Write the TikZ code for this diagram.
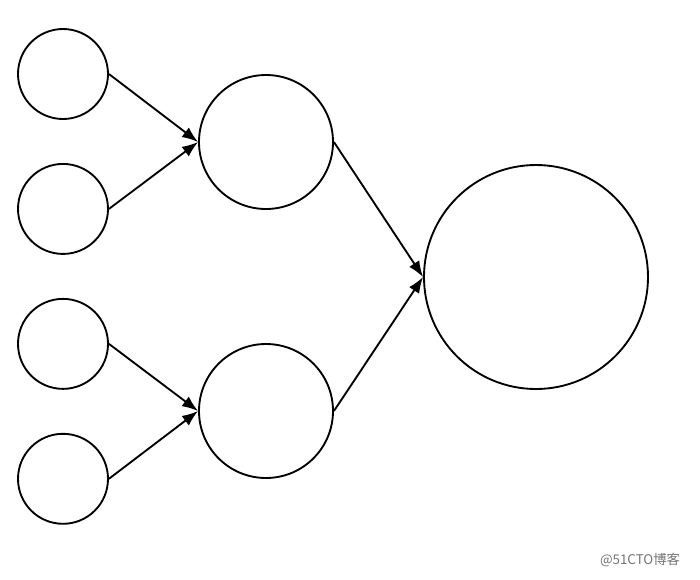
\documentclass[tikz,border=0pt]{standalone}
\usepackage{fontspec}
\newfontfamily\cjk{Noto Sans CJK SC}
\usetikzlibrary{arrows.meta, positioning}

\begin{document}
\begin{tikzpicture}[
        x=0.75pt, y=-0.75pt,
        node distance=32.3pt,
        neuron/.style={circle, draw, line width=1.4pt, inner sep=0pt},
        arrow/.style={-{Latex[length=12pt,width=9pt]}, line width=1.4pt},
    ]
        \useasboundingbox (0,0) rectangle (700,579);

        \node[neuron, minimum size=67.5pt] (in1) at (63,74) {};
        \node[neuron, minimum size=67.5pt, below=of in1] (in2) {};
        \node[neuron, minimum size=67.5pt, below=of in2] (in3) {};
        \node[neuron, minimum size=67.5pt, below=of in3] (in4) {};
        \node[neuron, minimum size=100.5pt] (hid1) at (266,142) {};
        \node[neuron, minimum size=100.5pt] (hid2) at (266,411) {};
        \node[neuron, minimum size=168pt] (out) at (536,277) {};

        \draw[arrow] (in1.east) -- (hid1.west);
        \draw[arrow] (in2.east) -- (hid1.west);
        \draw[arrow] (in3.east) -- (hid2.west);
        \draw[arrow] (in4.east) -- (hid2.west);
        \draw[arrow] (hid1.east) -- (out.west);
        \draw[arrow] (hid2.east) -- (out.west);

        \node[font=\cjk\fontsize{10}{11}\selectfont, text=black!55] (mark) at (640,560) {@51CTO博客};

    \end{tikzpicture}
\end{document}
